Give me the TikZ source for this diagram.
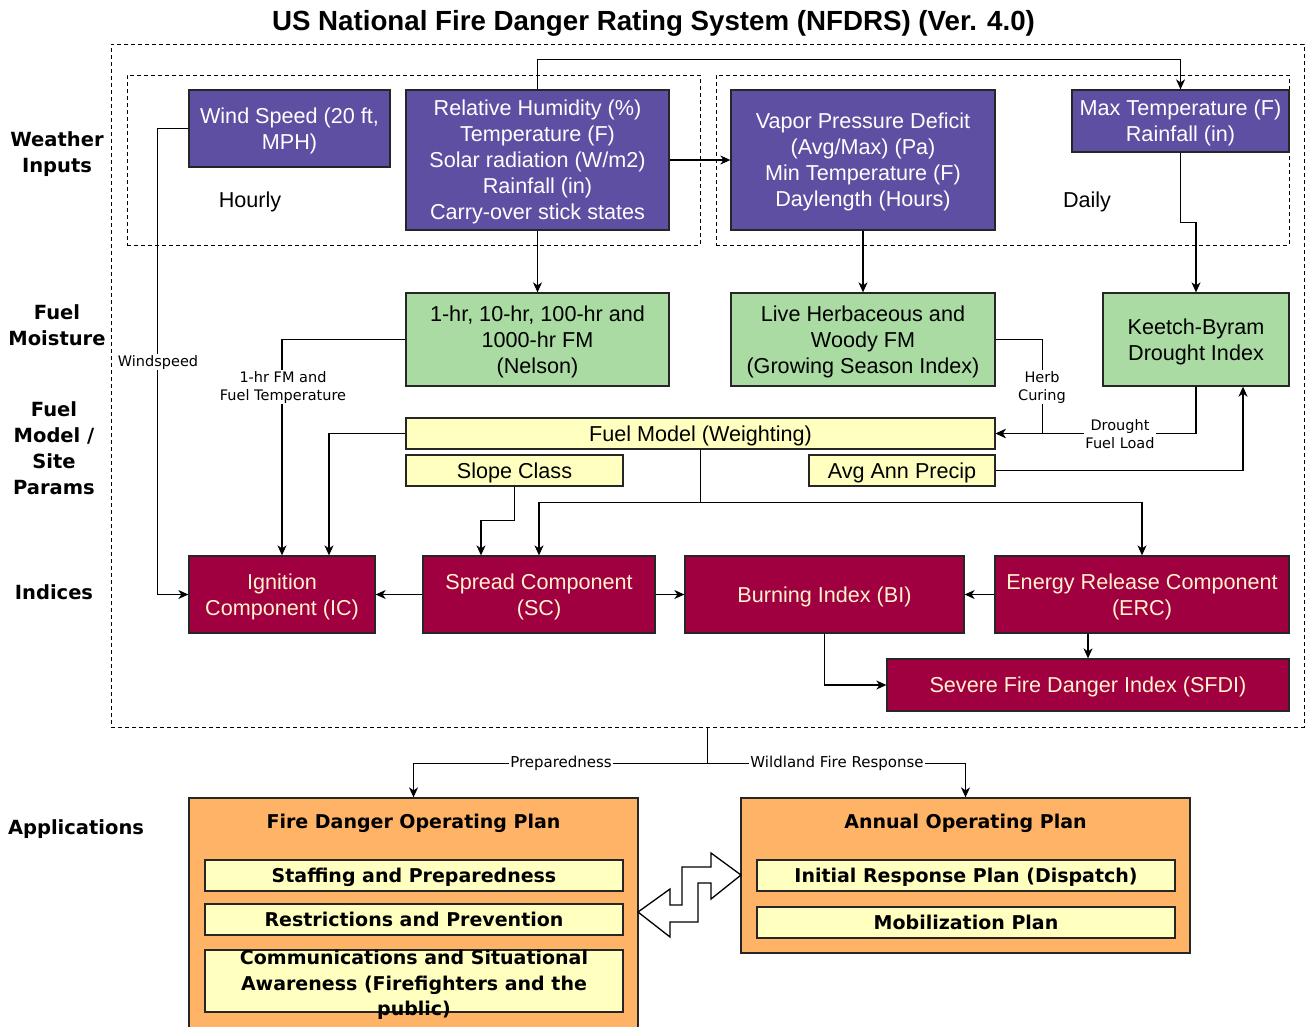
\documentclass[tikz,border=0pt]{standalone}
\usepackage{fontspec}
\setmainfont{Liberation Sans}
\newfontfamily\dvfont{DejaVu Sans}
\usetikzlibrary{arrows.meta,calc}
\definecolor{purp}{HTML}{5E4FA2}
\definecolor{grn}{HTML}{A9DBA2}
\definecolor{ylw}{HTML}{FFFFC0}
\definecolor{rd}{HTML}{A00040}
\definecolor{org}{HTML}{FFB366}
\definecolor{rdtext}{HTML}{FFF2CC}
\begin{document}
\begin{tikzpicture}[x=1pt,y=-1pt,
 sz/.style 2 args={minimum width=#1pt,minimum height=#2pt},
 box/.style={rectangle,draw=black!85,line width=1.3pt,inner sep=0pt,align=center,text depth=0pt,font=\fontsize{21.6}{26}\selectfont},
 pbox/.style={box,fill=purp,text=white},
 gbox/.style={box,fill=grn,text=black},
 ybox/.style={box,fill=ylw,text=black},
 rbox/.style={box,fill=rd,text=rdtext},
 obox/.style={box,fill=org},
 abox/.style={box,fill=ylw,font=\dvfont\bfseries\fontsize{19}{25.5}\selectfont},
 atext/.style={inner sep=0pt,align=center,font=\dvfont\bfseries\fontsize{19}{25.5}\selectfont},
 plain/.style={inner sep=0pt,align=center,font=\fontsize{21.6}{26}\selectfont},
 sidelbl/.style={inner sep=0pt,align=center,font=\dvfont\bfseries\fontsize{19.5}{26}\selectfont},
 lbl/.style={fill=white,inner sep=1pt,align=center,font=\dvfont\fontsize{14.5}{18}\selectfont},
 lblb/.style={fill=white,inner sep=1pt,align=center,font=\dvfont\fontsize{15}{18}\selectfont},
 arr/.style={line width=1.2pt,-{Stealth[length=10pt,width=9pt,inset=3pt]}},
 ln/.style={line width=1.2pt},
 dbox/.style={rectangle,draw=black,line width=1pt,dash pattern=on 4pt off 3pt,inner sep=0pt}
]
\useasboundingbox (0,0) rectangle (1308,1026);
\clip (0,0) rectangle (1308,1026);

% title
\node[inner sep=0pt,font=\bfseries\fontsize{27.7}{32}\selectfont] (title) at (653.5,23) {US National Fire Danger Rating System (NFDRS) (Ver. 4.0)};

% dashed groups
\node[dbox,sz={1193}{683}] (outer) at (707.5,385.5) {};
\node[dbox,sz={573}{170}] (hourly) at (413.5,160) {};
\node[dbox,sz={573}{170}] (daily) at (1002.5,160) {};

% side labels
\node[sidelbl] (lw) at (57,154.5) {Weather\\Inputs};
\node[sidelbl] (lf) at (57,325.5) {Fuel\\Moisture};
\node[sidelbl] (lm) at (54,448.5) {Fuel\\Model /\\Site\\Params};
\node[sidelbl] (li) at (54,592) {Indices};
\node[sidelbl] (la) at (76,829) {Applications};

% weather inputs
\node[pbox,sz={201}{77}] (ws) at (289.5,128.5) {Wind Speed (20 ft,\\MPH)};
\node[pbox,sz={263}{140}] (rh) at (537.5,160) {Relative Humidity (\%)\\Temperature (F)\\Solar radiation (W/m2)\\Rainfall (in)\\Carry-over stick states};
\node[pbox,sz={264}{140}] (vpd) at (863,160) {Vapor Pressure Deficit\\(Avg/Max) (Pa)\\Min Temperature (F)\\Daylength (Hours)};
\node[pbox,sz={217}{62}] (mt) at (1180.5,121) {Max Temperature (F)\\Rainfall (in)};
\node[plain] (hr) at (250,202) {Hourly};
\node[plain] (dy) at (1087,202) {Daily};

% fuel moisture
\node[gbox,sz={263}{93}] (nel) at (537.5,339.5) {1-hr, 10-hr, 100-hr and\\1000-hr FM\\(Nelson)};
\node[gbox,sz={264}{93}] (lh) at (863,339.5) {Live Herbaceous and\\Woody FM\\(Growing Season Index)};
\node[gbox,sz={186}{93}] (kb) at (1196,339.5) {Keetch-Byram\\Drought Index};

% fuel model / site
\node[ybox,sz={589}{31}] (fm) at (700.5,433.5) {Fuel Model (Weighting)};
\node[ybox,sz={217}{31}] (sl) at (514.5,470.5) {Slope Class};
\node[ybox,sz={186}{31}] (ap) at (902,470.5) {Avg Ann Precip};

% indices
\node[rbox,sz={186}{77}] (ic) at (282,594.5) {Ignition\\Component (IC)};
\node[rbox,sz={232}{77}] (sc) at (539,594.5) {Spread Component\\(SC)};
\node[rbox,sz={279}{77}] (bi) at (824.5,594.5) {Burning Index (BI)};
\node[rbox,sz={294}{77}] (erc) at (1142,594.5) {Energy Release Component\\(ERC)};
\node[rbox,sz={402}{52}] (sfdi) at (1088,685) {Severe Fire Danger Index (SFDI)};

% connectors
\draw[arr] (ws.west) -- ++(-31,0) |- (ic.west);
\draw[arr] (rh.north) -- ++(0,-30) -| (mt.north);
\draw[arr] (rh.east) -- (vpd.west);
\draw[arr] (rh.south) -- (nel.north);
\draw[arr] (vpd.south) -- (lh.north);
\draw[arr] (mt.south) -- ++(0,70) -| (kb.north);
\draw[arr] (nel.west) -| (ic.north);
\draw[arr] (fm.west) -| ([xshift=47pt]ic.north);
\draw[arr] (lh.east) -- ++(47,0) |- (fm.east);
\draw[arr] (kb.south) |- (fm.east);
\draw[arr] (ap.east) -| ([xshift=47pt]kb.south);
\draw[arr] (sl.south) -- ++(0,34) -| ([xshift=-58pt]sc.north);
\draw[arr] (fm.south) -- ++(0,52.5) -| (sc.north);
\draw[arr] (fm.south) -- ++(0,52.5) -| (erc.north);
\draw[arr] (sc.west) -- (ic.east);
\draw[arr] (sc.east) -- (bi.west);
\draw[arr] (erc.west) -- (bi.east);
\draw[arr] (sfdi.north |- erc.south) -- (sfdi.north);
\draw[arr] (bi.south) |- (sfdi.west);

% connector labels
\node[lbl] (lws) at (158,362) {Windspeed};
\node[lbl] (l1h) at (283,387) {1-hr FM and\\Fuel Temperature};
\node[lbl] (lhc) at (1042,387) {Herb\\Curing};
\node[lbl] (ldf) at (1120,434) {Drought\\Fuel Load};

% applications
\node[obox,sz={449}{232}] (fdop) at (413.5,914) {};
\node[obox,sz={449}{155}] (aop) at (965.5,875.5) {};
\node[atext] (fdopt) at (413.5,823) {Fire Danger Operating Plan};
\node[atext] (aopt) at (965.5,823) {Annual Operating Plan};
\node[abox,sz={418}{31}] (s1) at (414,875.5) {Staffing and Preparedness};
\node[abox,sz={418}{31}] (s2) at (414,919.5) {Restrictions and Prevention};
\node[abox,sz={418}{62}] (s3) at (414,981) {};
\node[atext] (s3t) at (414,985) {Communications and Situational\\Awareness (Firefighters and the\\public)};
\node[abox,sz={418}{31}] (a1) at (966,875.5) {Initial Response Plan (Dispatch)};
\node[abox,sz={418}{31}] (a2) at (966,922.5) {Mobilization Plan};

\draw[arr] (outer.south) -- ++(0,36) -| (fdop.north);
\draw[arr] (outer.south) -- ++(0,36) -| (aop.north);
\node[lblb] (lprep) at (561,763) {Preparedness};
\node[lblb] (lwfr) at (837,763) {Wildland Fire Response};

% double zigzag arrow
\draw[line width=1.3pt,fill=white,line join=miter]
 (741,875) -- (711,853) -- (711,867) -- (682,867) -- (682,905) -- (670,905)
 -- (670,889) -- (638,912) -- (670,937) -- (670,922) -- (698,922) -- (698,883)
 -- (711,883) -- (711,899) -- cycle;
\end{tikzpicture}
\end{document}
